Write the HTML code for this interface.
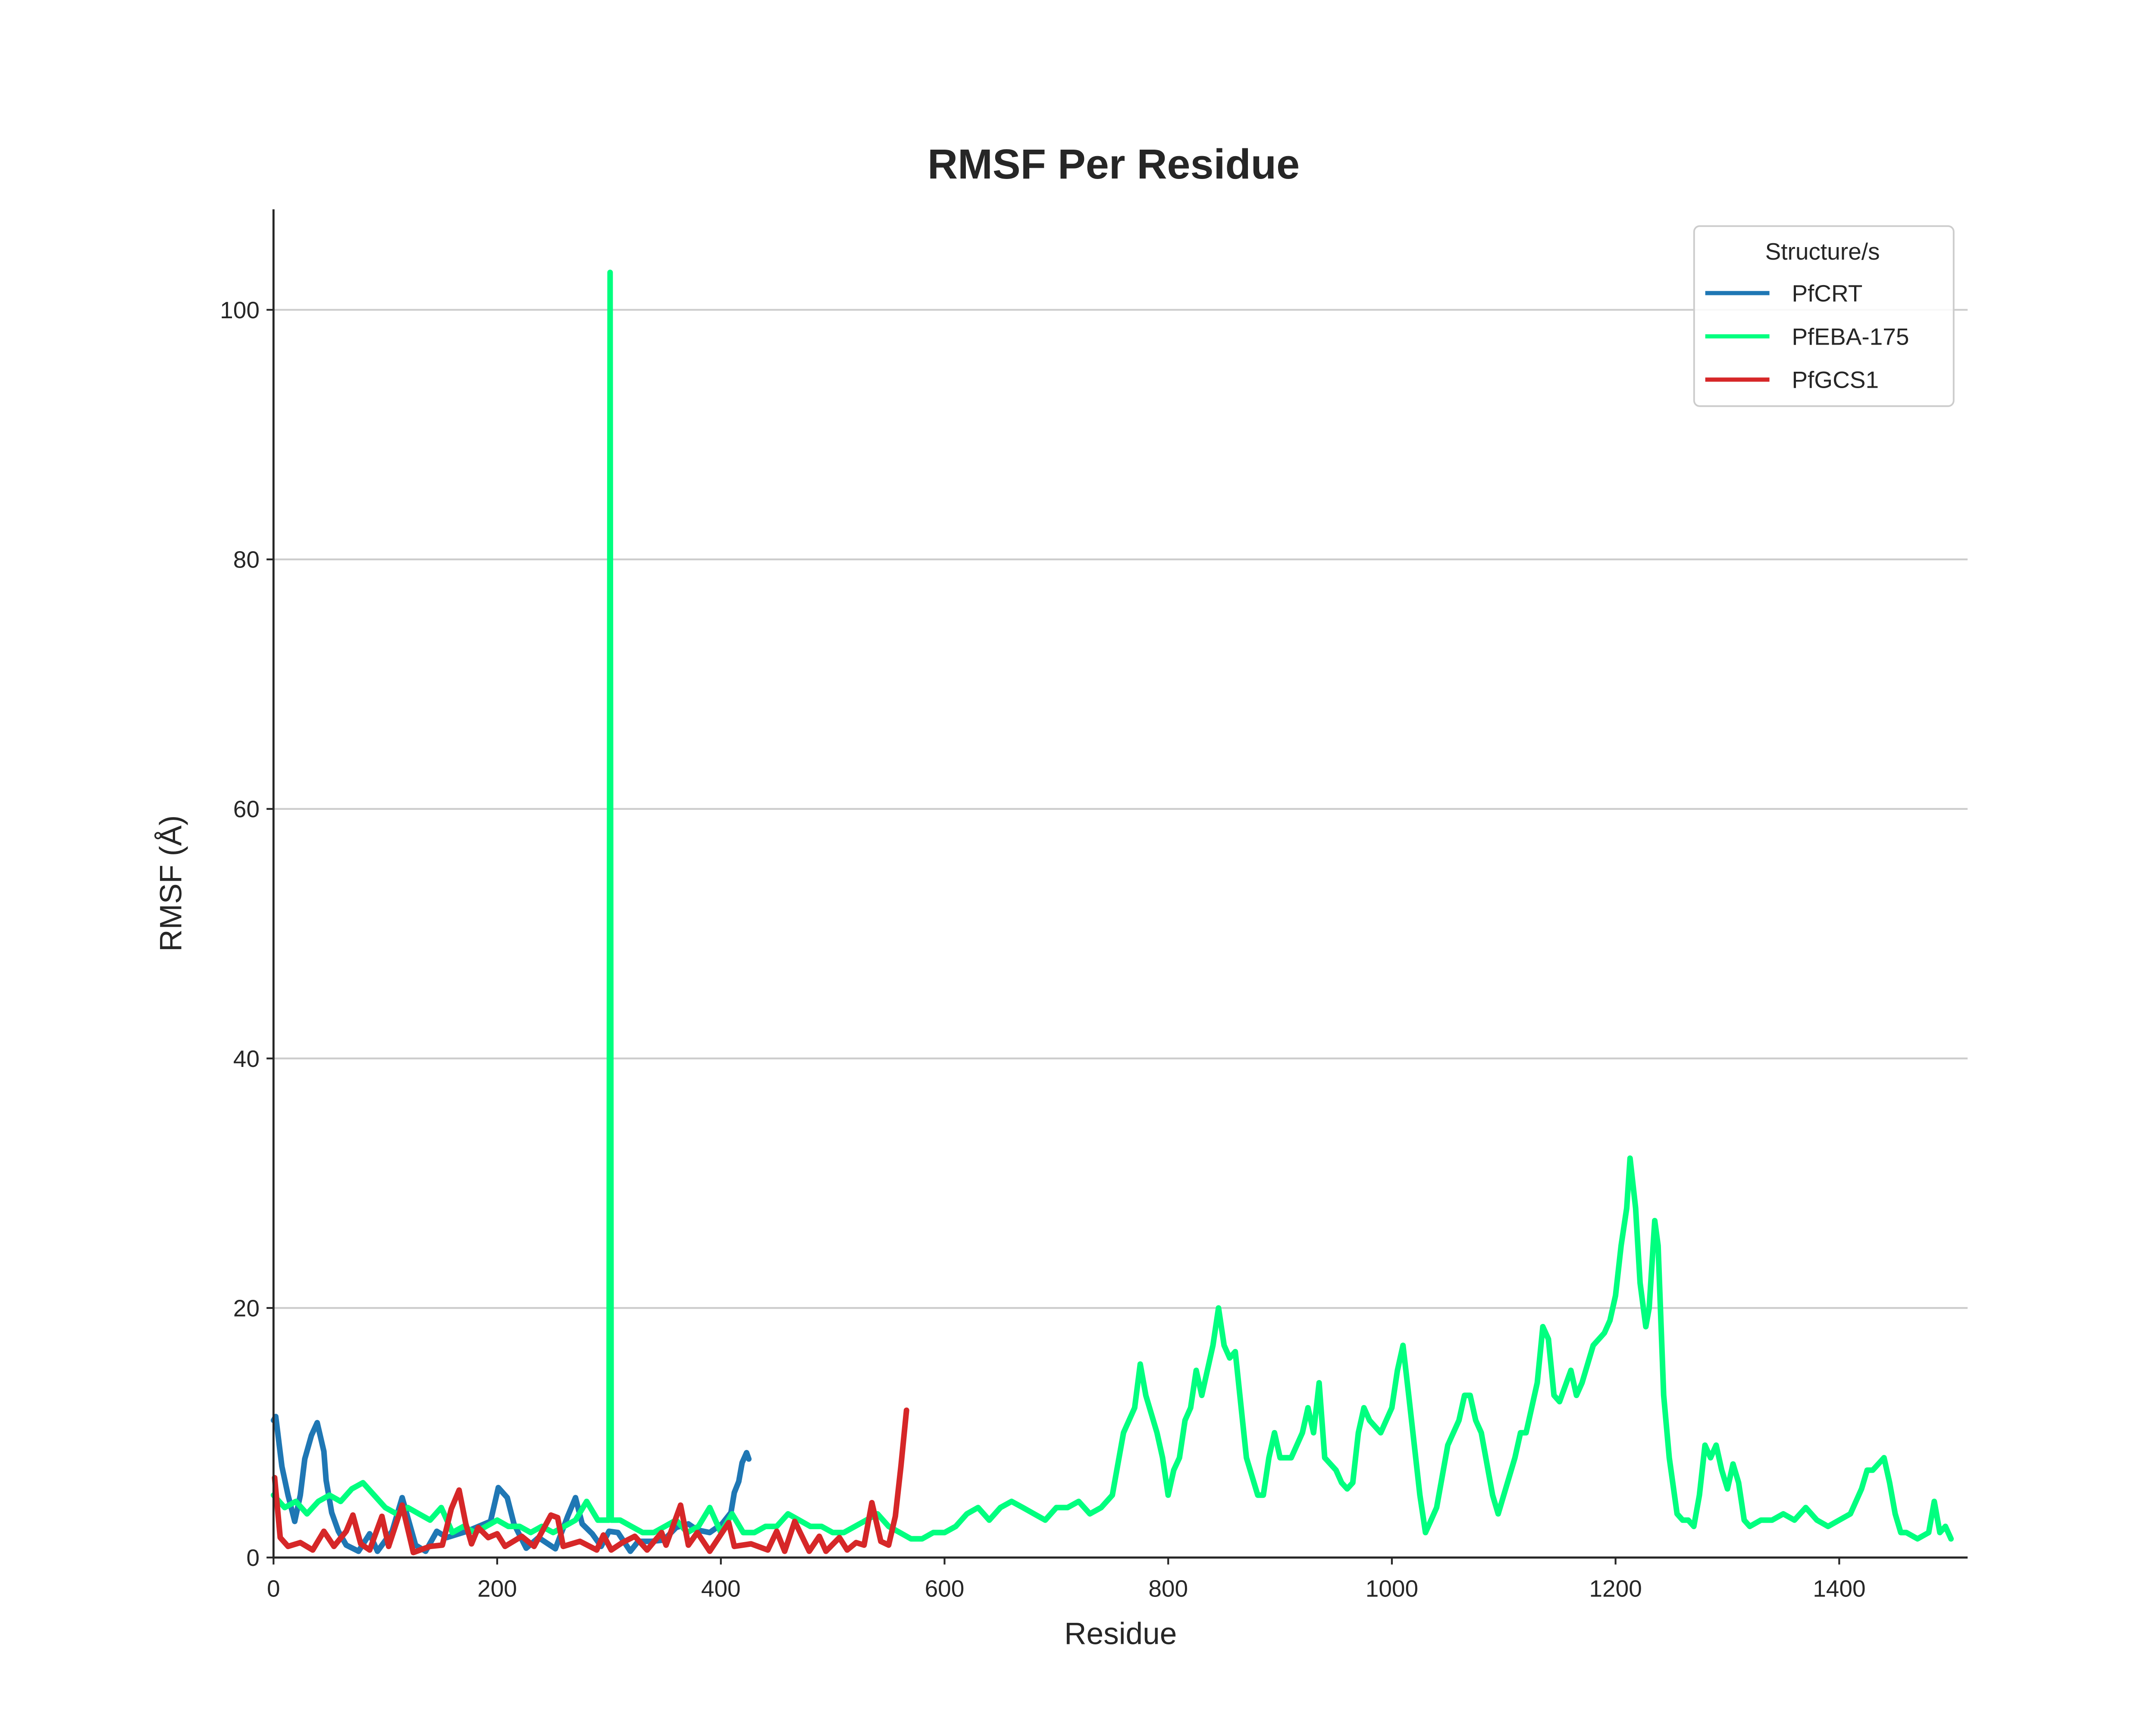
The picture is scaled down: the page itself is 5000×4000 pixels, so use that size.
<!DOCTYPE html>
<html><head><meta charset="utf-8"><style>
html,body{margin:0;padding:0;background:#fff;}
svg{display:block;font-family:"Liberation Sans",sans-serif;}
</style></head><body>
<svg id="chart" width="5000" height="4000" viewBox="0 0 1545 1236" xmlns="http://www.w3.org/2000/svg">
<rect width="1545" height="1236" fill="#fff"/>
<text x="798" y="128" text-anchor="middle" font-size="30" font-weight="bold" fill="#262626">RMSF Per Residue</text>
<text x="0" y="0" transform="translate(130,633) rotate(-90)" text-anchor="middle" font-size="22" fill="#262626">RMSF (Å)</text>
<text x="803" y="1178" text-anchor="middle" font-size="22" fill="#262626">Residue</text>
<g id="grid"></g>
<g id="series"></g>
<g id="axes"></g>
<g>
<rect x="1214" y="162" width="186" height="129" rx="4" fill="#fff" fill-opacity="0.85" stroke="#ccc" stroke-width="1.2"/>
<text x="1306" y="186" text-anchor="middle" font-size="17" fill="#262626">Structure/s</text>
<line x1="1222" y1="210" x2="1268" y2="210" stroke="#1f77b4" stroke-width="3"/>
<text x="1284" y="216" font-size="17" fill="#262626">PfCRT</text>
<line x1="1222" y1="241" x2="1268" y2="241" stroke="#00ff7f" stroke-width="3"/>
<text x="1284" y="247" font-size="17" fill="#262626">PfEBA-175</text>
<line x1="1222" y1="272" x2="1268" y2="272" stroke="#d62728" stroke-width="3"/>
<text x="1284" y="278" font-size="17" fill="#262626">PfGCS1</text>
</g>
</svg>
<script>
const xTicks=[0,200,400,600,800,1000,1200,1400];
const yTicks=[0,20,40,60,80,100];
const crtX=[0,2,7.5,13,19,24,28,34,39,45,47,52,58,65,76,86,93,106,115,121,127,136,146,155,173,194,201,209,215,226,237,252,263,270,276,285,293,300,308,319,326,338,349,360,371,379,390,401,409,412,416,419,423,425];
const crtY=[11,11.3,7.3,5.0,2.9,5.0,7.9,9.8,10.8,8.5,6.2,3.6,2.1,1.0,0.5,1.9,0.5,2.1,4.8,2.9,1.0,0.5,2.1,1.6,2.1,2.9,5.6,4.8,2.7,0.75,1.6,0.7,3.3,4.8,2.7,1.9,0.9,2.1,2.0,0.5,1.3,1.3,1.4,2.4,2.7,2.2,2.0,2.7,3.6,5.2,6.1,7.6,8.4,7.9];
const ebaX=[0,10,20,30,40,50,60,70,80,90,100,110,120,130,140,150,160,170,180,190,200,210,220,230,240,250,260,270,280,290,300,301,302,310,320,330,340,350,360,370,380,390,400,410,420,430,440,450,460,470,480,490,500,510,520,530,540,550,560,570,580,590,600,610,620,630,640,650,660,670,680,690,700,710,720,730,740,750,760,770,775,780,790,795,800,805,810,815,820,825,830,840,845,850,855,860,870,880,885,890,895,900,910,920,925,930,935,940,950,955,960,965,970,975,980,990,1000,1005,1010,1015,1020,1025,1030,1035,1040,1050,1060,1065,1070,1075,1080,1090,1095,1100,1110,1115,1120,1125,1130,1135,1140,1145,1150,1160,1165,1170,1180,1190,1195,1200,1205,1210,1213,1218,1222,1227,1230,1235,1238,1243,1248,1255,1260,1265,1270,1275,1280,1285,1290,1295,1300,1305,1310,1315,1320,1330,1340,1350,1360,1370,1380,1390,1400,1410,1420,1425,1430,1440,1445,1450,1455,1460,1470,1480,1485,1490,1495,1500];
const ebaY=[5,4,4.5,3.5,4.5,5,4.5,5.5,6,5,4,3.5,4,3.5,3,4,2,2.5,2,2.5,3,2.5,2.5,2,2.5,2,2.5,3,4.5,3,3,103,3,3,2.5,2,2,2.5,3,2,2.5,4,2,3.5,2,2,2.5,2.5,3.5,3,2.5,2.5,2,2,2.5,3,3.5,2.5,2,1.5,1.5,2,2,2.5,3.5,4,3,4,4.5,4,3.5,3,4,4,4.5,3.5,4,5,10,12,15.5,13,10,8,5,7,8,11,12,15,13,17,20,17,16,16.5,8,5,5,8,10,8,8,10,12,10,14,8,7,6,5.5,6,10,12,11,10,12,15,17,13,9,5,2,3,4,9,11,13,13,11,10,5,3.5,5,8,10,10,12,14,18.5,17.5,13,12.5,15,13,14,17,18,19,21,25,28,32,28,22,18.5,20,27,25,13,8,3.5,3,3,2.5,5,9,8,9,7,5.5,7.5,6,3,2.5,3,3,3.5,3,4,3,2.5,3,3.5,5.5,7,7,8,6,3.5,2,2,1.5,2,4.5,2,2.5,1.5];
const gcsX=[1,6,13,24,35,45,54,65,71,78,86,97,103,115,125,140,151,159,166,172,177,183,192,200,207,222,233,248,254,259,274,289,295,302,312,323,334,347,351,364,371,379,390,407,412,427,442,450,457,466,479,488,494,506,513,521,528,535,543,550,556,561,566];
const gcsY=[6.4,1.6,0.9,1.2,0.6,2.1,0.9,2.1,3.4,1.1,0.6,3.3,0.9,4.2,0.4,0.9,1.0,3.9,5.4,2.7,1.1,2.4,1.6,1.9,0.9,1.7,0.9,3.4,3.2,0.9,1.3,0.6,1.8,0.6,1.2,1.7,0.6,2.0,1.0,4.2,1.0,2.0,0.5,2.8,0.9,1.1,0.6,2.1,0.5,2.9,0.5,1.7,0.5,1.6,0.6,1.2,1.0,4.4,1.3,1.0,3.3,7.3,11.8];

const X0=196,X1=1410,Y0=1116;
function sx(v){return X0+v*(1318-196)/1400;}
function sy(v){return Y0-v*(1116-222)/100;}
const NS='http://www.w3.org/2000/svg';
function mk(tag,attrs,parent){const e=document.createElementNS(NS,tag);for(const k in attrs)e.setAttribute(k,attrs[k]);parent.appendChild(e);return e;}
const grid=document.getElementById('grid'),axes=document.getElementById('axes'),ser=document.getElementById('series');
yTicks.forEach(t=>{
  if(t>0){const g=mk('line',{x1:X0,x2:X1,y1:sy(t),y2:sy(t),stroke:'#cccccc','stroke-width':1.3},grid);
  
  }
  mk('line',{x1:X0-5,x2:X0,y1:sy(t),y2:sy(t),stroke:'#262626','stroke-width':1.3},axes);
  const tx=mk('text',{x:X0-10,y:sy(t)+6,'text-anchor':'end','font-size':'17',fill:'#262626'},axes);
  tx.textContent=t;
  
  
});
xTicks.forEach(t=>{
  mk('line',{x1:sx(t),x2:sx(t),y1:Y0,y2:Y0+5,stroke:'#262626','stroke-width':1.3},axes);
  const tx=mk('text',{x:sx(t),y:Y0+28,'text-anchor':'middle','font-size':'17',fill:'#262626'},axes);
  tx.textContent=t;
  
  
});
const la=mk('line',{x1:X0,x2:X0,y1:150,y2:Y0,stroke:'#262626','stroke-width':1.5},axes);


const lb=mk('line',{x1:X0,x2:X1,y1:Y0,y2:Y0,stroke:'#262626','stroke-width':1.5},axes);


function line(xs,ys,color,name){
  const d=xs.map((x,i)=>(i?'L':'M')+sx(x).toFixed(1)+','+sy(ys[i]).toFixed(1)).join('');
  const p=mk('path',{d:d,fill:'none',stroke:color,'stroke-width':4,'stroke-linejoin':'round','stroke-linecap':'round'},ser);
  
  
}
line(crtX,crtY,'#1f77b4','pfcrt-line');
line(ebaX,ebaY,'#00ff7f','pfeba175-line');
line(gcsX,gcsY,'#d62728','pfgcs1-line');
</script>
</body></html>
